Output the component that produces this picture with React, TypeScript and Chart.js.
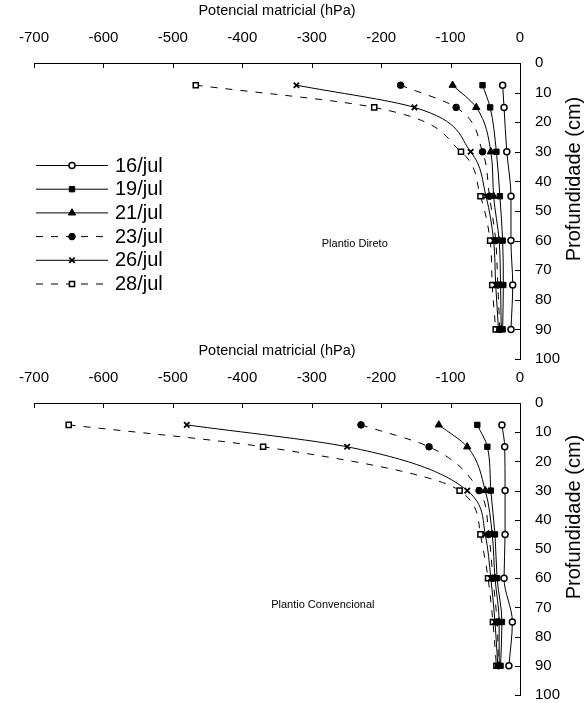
import React, { useEffect, useRef } from 'react';
import { Chart, registerables } from 'chart.js';
import { drawPoint } from 'chart.js/helpers';

Chart.register(...registerables);

// ---------- data ----------
const depths = [7.5, 15, 30, 45, 60, 75, 90];
const dateLabels = ['16/jul', '19/jul', '21/jul', '23/jul', '26/jul', '28/jul'];

// Plantio Direto (hPa)
const direto16 = [-25, -23, -19, -13, -13, -10.5, -13];
const direto19 = [-54, -43, -34, -29, -25, -24, -25];
const direto21 = [-97, -63, -42, -38, -30, -28, -27];
const direto23 = [-172, -92, -54, -44, -35, -32, -29];
const direto26 = [-322, -152, -71, -49, -38, -35, -31];
const direto28 = [-467, -210, -85, -57, -43, -40, -35];

// Plantio Convencional (hPa)
const conv16 = [-26, -22, -21.5, -21.5, -23, -11, -16];
const conv19 = [-61.5, -47, -42, -36, -33, -26, -28];
const conv21 = [-117, -76, -50, -40, -36, -30, -30];
const conv23 = [-229, -131, -59, -45, -39, -33, -31];
const conv26 = [-480, -249, -76, -50, -42, -36, -32];
const conv28 = [-650, -370, -87, -57, -46, -39, -34];

const xTitle = 'Potencial matricial (hPa)';
const yTitle = 'Profundidade (cm)';
const panelNames = ['Plantio Direto', 'Plantio Convencional'];

// ---------- styles ----------
const REG = '"Liberation Sans", Arial, sans-serif';

const seriesStyles = [
  { pointStyle: 'circle', dash: [] as number[], radius: 3, fill: '#ffffff', pbw: 1.5 },
  { pointStyle: 'rect', dash: [] as number[], radius: 3.8, fill: '#000000', pbw: 1 },
  { pointStyle: 'triangle', dash: [] as number[], radius: 4.2, fill: '#000000', pbw: 1 },
  { pointStyle: 'circle', dash: [7, 8], radius: 3.3, fill: '#000000', pbw: 1 },
  { pointStyle: 'crossRot', dash: [] as number[], radius: 3.8, fill: '#000000', pbw: 1.8 },
  { pointStyle: 'rect', dash: [7, 8], radius: 3.6, fill: '#ffffff', pbw: 1.5 },
];

function buildDatasets(series: number[][]) {
  return series.map((vals, i) => {
    const s = seriesStyles[i];
    return {
      label: dateLabels[i],
      data: depths.map((d, k) => ({ x: vals[k], y: d })),
      borderColor: '#000000',
      borderWidth: 1,
      borderDash: s.dash,
      backgroundColor: s.fill,
      pointStyle: s.pointStyle,
      pointRadius: s.radius,
      pointBackgroundColor: s.fill,
      pointBorderColor: '#000000',
      pointBorderWidth: s.pbw,
      cubicInterpolationMode: 'monotone',
      fill: false,
      clip: false,
    };
  });
}

const decorPlugin = {
  id: 'decor',
  afterDraw(chart: any, _args: any, opts: any) {
    const { ctx, chartArea, scales } = chart;
    const xs = scales.x;
    const ys = scales.y;
    ctx.save();
    ctx.strokeStyle = '#000';
    ctx.lineWidth = 1;
    ctx.setLineDash([]);
    // inward tick marks
    xs.ticks.forEach((t: any) => {
      const px = Math.round(xs.getPixelForValue(t.value)) + 0.5;
      ctx.beginPath();
      ctx.moveTo(px, chartArea.top);
      ctx.lineTo(px, chartArea.top + 5);
      ctx.stroke();
    });
    ys.ticks.forEach((t: any) => {
      const py = Math.round(ys.getPixelForValue(t.value)) + 0.5;
      ctx.beginPath();
      ctx.moveTo(chartArea.right - 5, py);
      ctx.lineTo(chartArea.right, py);
      ctx.stroke();
    });
    // y title (reads bottom to top)
    ctx.fillStyle = '#000';
    ctx.font = '20px ' + REG;
    ctx.textAlign = 'center';
    ctx.textBaseline = 'middle';
    ctx.save();
    ctx.translate(opts.yTitleX, (chartArea.top + chartArea.bottom) / 2 + opts.yTitleShift);
    ctx.rotate(-Math.PI / 2);
    ctx.fillText(yTitle, 0, 0);
    ctx.restore();
    // panel name
    ctx.font = '11px ' + REG;
    ctx.fillText(opts.panel, xs.getPixelForValue(opts.panelX), ys.getPixelForValue(opts.panelY));
    // legend
    ctx.font = '20px ' + REG;
    ctx.textAlign = 'left';
    chart.data.datasets.forEach((ds: any, i: number) => {
      const y = opts.legendY + i * opts.legendStep;
      const x0 = opts.legendX;
      const x1 = x0 + opts.legendLen;
      ctx.strokeStyle = '#000';
      ctx.lineWidth = 1;
      ctx.setLineDash(ds.borderDash || []);
      ctx.beginPath();
      ctx.moveTo(x0, y + 0.5);
      ctx.lineTo(x1, y + 0.5);
      ctx.stroke();
      ctx.setLineDash([]);
      ctx.fillStyle = ds.pointBackgroundColor;
      ctx.strokeStyle = ds.pointBorderColor;
      ctx.lineWidth = ds.pointBorderWidth;
      drawPoint(ctx, { pointStyle: ds.pointStyle, radius: ds.pointRadius, borderWidth: ds.pointBorderWidth, rotation: 0 } as any, (x0 + x1) / 2, y + 0.5);
      ctx.fillStyle = '#000';
      ctx.fillText(ds.label, x1 + 7, y + 1);
    });
    ctx.restore();
  },
};

function makeConfig(series: number[][], bottomPad: number, decor: any) {
  const tickFont = { family: REG, size: 15, lineHeight: 1 };
  return {
    type: 'line' as const,
    data: { datasets: buildDatasets(series) },
    plugins: [decorPlugin],
    options: {
      animation: false,
      responsive: false,
      indexAxis: 'y',
      layout: { padding: { left: 34, right: 0, top: 0, bottom: bottomPad } },
      plugins: { legend: { display: false }, tooltip: { enabled: false }, decor },
      scales: {
        x: {
          type: 'linear',
          position: 'top',
          min: -700,
          max: 0,
          ticks: { stepSize: 100, padding: 18, font: tickFont, color: '#000', maxRotation: 0 },
          grid: { display: false, drawTicks: false, tickLength: 0 },
          border: { display: true, color: '#000', width: 1 },
          title: { display: true, text: xTitle, color: '#000', font: { family: REG, size: 14.5, lineHeight: 1.2 }, padding: { top: 2.5, bottom: 0 } },
          afterFit: (s: any) => { s.height = 63; },
        },
        y: {
          type: 'linear',
          position: 'right',
          reverse: true,
          min: 0,
          max: 100,
          ticks: { stepSize: 10, padding: 15, font: tickFont, color: '#000' },
          grid: { display: false, drawTicks: false, tickLength: 0 },
          border: { display: true, color: '#000', width: 1 },
          afterFit: (s: any) => { s.width = 68; s.paddingTop = 0; s.paddingBottom = 0; },
        },
      },
    },
  };
}

function Panel(props: { top: number; height: number; series: number[][]; bottomPad: number; decor: any }) {
  const ref = useRef<HTMLCanvasElement | null>(null);
  useEffect(() => {
    if (!ref.current) return;
    const chart = new Chart(ref.current, makeConfig(props.series, props.bottomPad, props.decor) as any);
    return () => chart.destroy();
  }, []);
  return (
    <canvas
      ref={ref}
      width={588}
      height={props.height}
      style={{ position: 'absolute', left: 0, top: props.top, width: 588, height: props.height, display: 'block' }}
    />
  );
}

export default function App() {
  return (
    <div style={{ position: 'absolute', left: 0, top: 0, width: 588, height: 703, background: '#fff', overflow: 'hidden' }}>
      <Panel
        top={0}
        height={375}
        bottomPad={16}
        series={[direto16, direto19, direto21, direto23, direto26, direto28]}
        decor={{ panel: panelNames[0], panelX: -238, panelY: 61, legendX: 36, legendY: 165, legendStep: 23.7, legendLen: 72, yTitleX: 574, yTitleShift: -32 }}
      />
      <Panel
        top={340}
        height={363}
        bottomPad={8}
        series={[conv16, conv19, conv21, conv23, conv26, conv28]}
        decor={{ panel: panelNames[1], panelX: -284, panelY: 69, legendX: 46, legendY: 494, legendStep: 23.6, legendLen: 72, yTitleX: 574, yTitleShift: -32 }}
      />
    </div>
  );
}
